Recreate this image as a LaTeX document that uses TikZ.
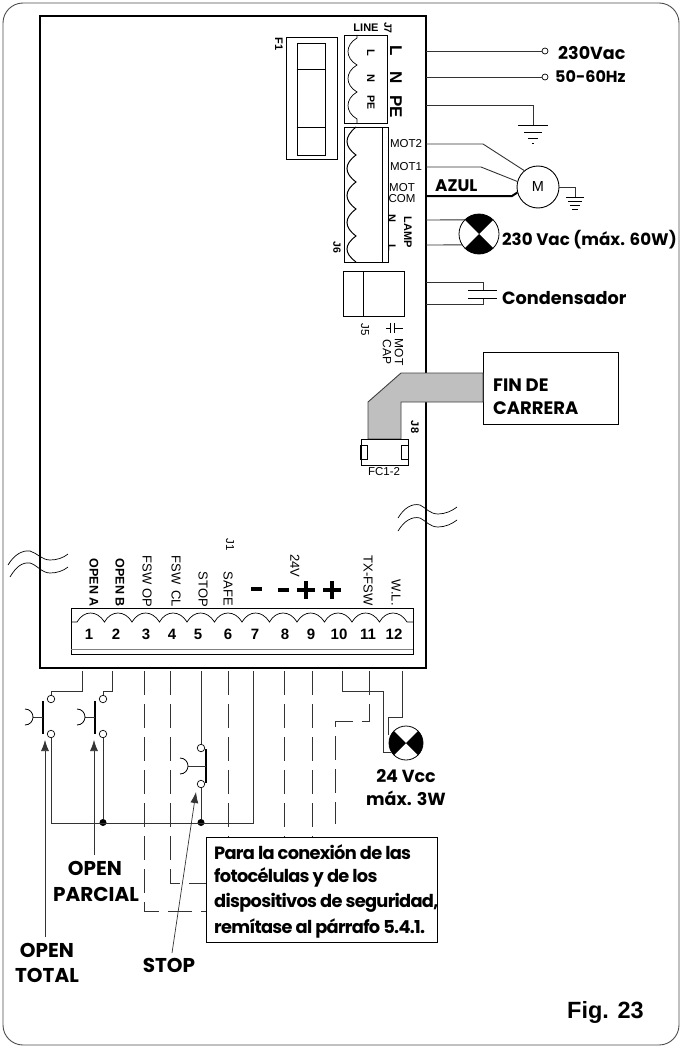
\documentclass[tikz,border=0pt]{standalone}
\usepackage{fontspec}
\setmainfont{Liberation Sans}
\newfontfamily\figfont{Poppins}
\usetikzlibrary{arrows.meta}
\tikzset{
	wire/.style={line width=0.9pt, black!80},
	dashwire/.style={line width=0.8pt, black!80, dash pattern={on 24pt off 9pt}},
	termopen/.style={shape=circle, draw, fill=white, line width=0.7pt, inner sep=0, minimum size=7.5pt},
	termdot/.style={shape=circle, fill=black, inner sep=0, minimum size=7pt},
	boldlabel/.style={font=\figfont\bfseries\fontsize{18}{18}\selectfont, inner sep=0},
	notelabel/.style={anchor=west, inner sep=0, font=\figfont\bfseries\fontsize{17.8}{17.8}\selectfont\addfontfeature{LetterSpace=-4}},
	pinlabel/.style={font=\fontsize{13}{13}\selectfont, rotate=-90, anchor=east, inner sep=0},
	pinname/.style={font=\fontsize{11.5}{11.5}\selectfont, rotate=-90, inner sep=0},
	bigpin/.style={font=\bfseries\fontsize{17}{17}\selectfont, rotate=-90, inner sep=0},
	motname/.style={font=\fontsize{11.5}{11.5}\selectfont, inner sep=0},
	pinnum/.style={font=\bfseries\fontsize{15}{15}\selectfont, inner sep=0},
	pointer/.style={line width=0.7pt, black!80, -{Latex[length=11pt,width=8pt]}}
}
\begin{document}
\begin{tikzpicture}[x=1pt, y=-1pt]
	\useasboundingbox (0,0) rectangle (680,1046);
	% Frame and board:
	\draw[line width=0.9pt, black!70, rounded corners=20] (3,3) rectangle (679,1045);
	\node[shape=rectangle, draw, line width=2pt, minimum width=386pt, minimum height=652pt] (Board) at (233,342){};
	% Fuse:
	\node[shape=rectangle, draw, line width=0.8pt, minimum width=51pt, minimum height=122pt] (FuseBox) at (311.5,98){};
	\node[shape=rectangle, draw, line width=0.8pt, minimum width=28pt, minimum height=112pt] (Fuse) at (311,99){};
	\draw[line width=0.8pt] (Fuse.north west) ++(0,27) -- ++(28,0);
	\draw[line width=0.8pt] (Fuse.south west) ++(0,-28) -- ++(28,0);
	\node[pinname, font=\bfseries\fontsize{11}{11}\selectfont] (F1) at (279,44){F1};
	% J7:
	\node[shape=rectangle, draw, line width=0.8pt, minimum width=43pt, minimum height=88pt] (J7) at (365.5,79){};
	\draw[line width=0.7pt] (357,35) -- (357,38) .. controls (345,45) and (345,58) .. (357,65) .. controls (345,72) and (345,85) .. (357,92) .. controls (345,99) and (345,112) .. (357,119) -- (357,123);
	\node[pinname, font=\bfseries\fontsize{11}{11}\selectfont] (J7L) at (371,53){L};
	\node[pinname, font=\bfseries\fontsize{11}{11}\selectfont] (J7N) at (371,78){N};
	\node[pinname, font=\bfseries\fontsize{10.5}{10.5}\selectfont] (J7PE) at (371,103){PE};
	\node[bigpin] (LblL) at (396,51){L};
	\node[bigpin] (LblN) at (396,78){N};
	\node[bigpin] (LblPE) at (396,107){PE};
	\node[motname, font=\bfseries\fontsize{11}{11}\selectfont] (LblLine) at (366,28){LINE};
	\node[pinname, font=\bfseries\fontsize{10.5}{10.5}\selectfont] (LblJ7) at (388,28){J7};
	% J6:
	\node[shape=rectangle, draw, line width=0.8pt, minimum width=44pt, minimum height=135pt] (J6) at (366,194.5){};
	\draw[line width=0.8pt] (382,127) -- (382,262);
	\draw[line width=1pt] (356,127) .. controls (344,137) and (344,146) .. (356,155) .. controls (344,164) and (344,173) .. (356,182) .. controls (344,191) and (344,200) .. (356,209) .. controls (344,218) and (344,227) .. (356,236) .. controls (344,245) and (344,253) .. (356,262);
	\node[motname] (LblMotB) at (406,144){MOT2};
	\node[motname] (LblMotA) at (406,167){MOT1};
	\node[motname] (LblMotC) at (402,188){MOT};
	\node[motname] (LblCom) at (402,199){COM};
	\node[pinname, font=\bfseries\fontsize{11}{11}\selectfont] (LblLampN) at (392,218){N};
	\node[pinname, font=\bfseries\fontsize{11}{11}\selectfont] (LblLampL) at (392,248){L};
	\node[pinname, font=\bfseries\fontsize{11}{11}\selectfont] (LblLamp) at (408,232){LAMP};
	\node[pinname, font=\bfseries\fontsize{10.5}{10.5}\selectfont] (LblJ6) at (337,247){J6};
	% J5:
	\node[shape=rectangle, draw, line width=0.8pt, minimum width=61pt, minimum height=45pt] (J5) at (373.5,293.5){};
	\draw[line width=0.8pt] (363,271) -- (363,316);
	\node[pinname] (LblJ5) at (365,330){J5};
	\draw[line width=0.8pt] (390,323) -- (390,333) (394,323) -- (394,333) (386,328) -- (390,328) (394,328) -- (403,328);
	\node[pinname, font=\fontsize{12}{12}\selectfont] (LblMotCap) at (399,352){MOT};
	\node[pinname, font=\fontsize{12}{12}\selectfont] (LblCap) at (387,352){CAP};
	% Limit switch:
	\node[shape=rectangle, draw, line width=0.9pt, minimum width=135pt, minimum height=72pt] (Fin) at (550.5,388){};
	\node[boldlabel, anchor=west] (LblFin) at (493,385){FIN DE};
	\node[boldlabel, anchor=west] (LblCarrera) at (493,408){CARRERA};
	\draw[fill=black!25, draw=black!75, line width=0.9pt] (401,373) -- (483,373) -- (483,402) -- (401,402) -- (401,439) -- (368,439) -- (368,402) -- cycle;
	\node[shape=rectangle, draw, line width=0.8pt, minimum width=47pt, minimum height=26pt] (FC) at (384.5,452){};
	\node[shape=rectangle, draw, line width=0.7pt, minimum width=6pt, minimum height=14pt] (FCa) at (364,452){};
	\node[shape=rectangle, draw, line width=0.7pt, minimum width=6pt, minimum height=14pt] (FCb) at (405,452){};
	\node[motname] (LblFC) at (384,472){FC1-2};
	\node[pinname, font=\bfseries\fontsize{11}{11}\selectfont] (LblJ8) at (415,427){J8};
	% Mains side:
	\node[termopen, minimum size=6pt] (Ac1) at (545,51){};
	\node[termopen, minimum size=6pt] (Ac2) at (545,77){};
	\coordinate (PL) at (426,51);
	\coordinate (PN) at (426,77);
	\coordinate (PE) at (426,105);
	\coordinate (EarthA) at (533,125);
	\coordinate (EarthB) at (575,197);
	\draw[wire] (PL) -- (Ac1);
	\draw[wire] (PN) -- (Ac2);
	\draw[wire] (PE) -| (EarthA);
	\draw[line width=0.9pt] (EarthA) ++(-15,0) -- ++(30,0) (EarthA) ++(-9,7) -- ++(18,0) (EarthA) ++(-5,13) -- ++(10,0) (EarthA) ++(-1,18) -- ++(2,0);
	\node[boldlabel, anchor=west, font=\figfont\bfseries\fontsize{17.5}{17.5}\selectfont] (Lbl230) at (558,53){230Vac};
	\node[boldlabel, anchor=west, font=\figfont\bfseries\fontsize{16}{16}\selectfont] (LblHz) at (555,77){50-60Hz};
	% Motor:
	\node[shape=circle, draw, line width=0.9pt, inner sep=0, minimum size=42pt, font=\fontsize{14.5}{14.5}\selectfont] (Motor) at (538,187){M};
	\coordinate (MB) at (426,144);
	\coordinate (MA) at (426,167);
	\coordinate (MC) at (426,196);
	\draw[wire] (MB) -- (483,144) -- (Motor.130);
	\draw[wire] (MA) -- (481,167) -- (Motor.165);
	\draw[line width=2pt] (MC) -- (512,196) -- (Motor.195);
	\draw[wire] (Motor.east) -- (575,187) -- (EarthB);
	\draw[line width=0.9pt] (EarthB) ++(-9,0) -- ++(18,0) (EarthB) ++(-7,4) -- ++(14,0) (EarthB) ++(-5,8) -- ++(10,0) (EarthB) ++(-3,12) -- ++(6,0);
	\node[boldlabel, font=\figfont\bfseries\fontsize{16.8}{16.8}\selectfont, anchor=west] (LblAzul) at (435,186){AZUL};
	% Lamp 230 V:
	\node[shape=circle, draw, line width=0.8pt, inner sep=0, outer sep=0, minimum size=40pt] (LampA) at (479,234){};
	\fill (LampA.center) -- (LampA.45) arc[start angle=45, end angle=135, radius=20pt] -- cycle;
	\fill (LampA.center) -- (LampA.225) arc[start angle=225, end angle=315, radius=20pt] -- cycle;
	\coordinate (LN) at (426,220);
	\coordinate (LL) at (426,245);
	\draw[wire] (LN) -- (LampA.135);
	\draw[wire] (LL) -- (LampA.213);
	\node[boldlabel, anchor=west, font=\figfont\bfseries\fontsize{16.7}{16.7}\selectfont] (LblLampA) at (502,240){230 Vac (máx. 60W)};
	% Capacitor:
	\coordinate (CapA) at (426,282);
	\coordinate (CapB) at (426,304);
	\coordinate (CapTop) at (483,290);
	\coordinate (CapBot) at (483,298);
	\draw[wire] (CapA) -| (CapTop);
	\draw[wire] (CapB) -| (CapBot);
	\draw[line width=1pt] (468,290) -- (497,290) (468,298) -- (497,298);
	\node[boldlabel, anchor=west, font=\figfont\bfseries\fontsize{17.7}{17.7}\selectfont] (LblCond) at (502,298){Condensador};
	% Break marks:
	\draw[line width=0.7pt] (398,518) .. controls (404,508) and (412,503) .. (420,505) .. controls (426,508) and (430,514) .. (438,514) .. controls (445,514) and (452,511) .. (457,507);
	\draw[line width=0.7pt] (398,531) .. controls (404,521) and (412,516) .. (420,518) .. controls (426,521) and (430,527) .. (438,527) .. controls (445,527) and (452,524) .. (457,520);
	\draw[line width=0.7pt] (8,565) .. controls (14,555) and (22,550) .. (30,551) .. controls (37,553) and (42,560) .. (50,560) .. controls (57,560) and (63,558) .. (68,554);
	\draw[line width=0.7pt] (10,577) .. controls (16,567) and (22,562) .. (30,563) .. controls (37,565) and (42,573) .. (50,573) .. controls (57,573) and (63,571) .. (68,567);
	% Terminal block J1:
	\node[shape=rectangle, draw, line width=0.9pt, minimum width=342pt, minimum height=46pt] (Block) at (242,631){};
	\draw[line width=1pt, black!50] (71,649) -- (413,649);
	\draw[line width=0.7pt] (71,622) -- (77,622) .. controls (84,610) and (97,610) .. (104.5,622) .. controls (111,610) and (125,610) .. (132,622) .. controls (139,610) and (152,610) .. (159.5,622) .. controls (166,610) and (180,610) .. (187,622) .. controls (194,610) and (207,610) .. (214.5,622) .. controls (221,610) and (235,610) .. (242,622) .. controls (249,610) and (262,610) .. (269.5,622) .. controls (276,610) and (290,610) .. (297,622) .. controls (304,610) and (317,610) .. (324.5,622) .. controls (331,610) and (345,610) .. (352,622) .. controls (359,610) and (372,610) .. (379.5,622) .. controls (386,610) and (400,610) .. (407,622) -- (413,622);
	\node[pinnum] (Num1) at (89,634){1};
	\node[pinnum] (Num2) at (116,634){2};
	\node[pinnum] (Num3) at (146,634){3};
	\node[pinnum] (Num4) at (172,634){4};
	\node[pinnum] (Num5) at (198,634){5};
	\node[pinnum] (Num6) at (228,634){6};
	\node[pinnum] (Num7) at (255,634){7};
	\node[pinnum] (Num8) at (285,634){8};
	\node[pinnum] (Num9) at (311,634){9};
	\node[pinnum] (Num10) at (339,634){10};
	\node[pinnum] (Num11) at (368,634){11};
	\node[pinnum] (Num12) at (394,634){12};
	\node[pinlabel, font=\bfseries\fontsize{12.5}{12.5}\selectfont] (LblOpenA) at (94,607){OPEN A};
	\node[pinlabel, font=\bfseries\fontsize{12.5}{12.5}\selectfont] (LblOpenB) at (120,607){OPEN B};
	\node[pinlabel] (LblFswOp) at (147,607){FSW OP};
	\node[pinlabel] (LblFswCl) at (176,607){FSW\, CL};
	\node[pinlabel] (LblStop) at (203,607){STOP};
	\node[pinlabel] (LblSafe) at (228,606){SAFE};
	\node[pinname] (LblJ1) at (230,545){J1};
	\node[pinname, font=\fontsize{13}{13}\selectfont] (Lbl24) at (295,566){24V};
	\node[pinlabel] (LblTx) at (368,606){TX-FSW};
	\node[pinlabel] (LblWl) at (396,606){W.L.};
	\draw[line width=3.5pt] (251,589) -- (262,589);
	\draw[line width=3.5pt] (278,590) -- (289,590);
	\draw[line width=3.5pt] (297,590) -- (315,590) (306,581) -- (306,599);
	\draw[line width=3.5pt] (323,590) -- (341,590) (332,581) -- (332,599);
	% Terminal wires:
	\coordinate (T1) at (82,671);
	\coordinate (T2) at (112,671);
	\coordinate (T3) at (144,671);
	\coordinate (T4) at (170,671);
	\coordinate (T5) at (201,671);
	\coordinate (T6) at (228,671);
	\coordinate (T7) at (253,671);
	\coordinate (T8) at (284,671);
	\coordinate (T9) at (312,671);
	\coordinate (T10) at (342,671);
	\coordinate (T11) at (369,671);
	\coordinate (T12) at (402,671);
	% Push buttons:
	\node[termopen] (SwAa) at (51,699){};
	\node[termopen] (SwAb) at (51,734){};
	\node[termopen] (SwBa) at (103,699){};
	\node[termopen] (SwBb) at (103,734){};
	\node[termopen] (SwCa) at (201,748){};
	\node[termopen] (SwCb) at (201,784){};
	\node[termdot] (DotA) at (103,822.5){};
	\node[termdot] (DotB) at (201,822.5){};
	\draw[wire] (T1) -- (82,691) -- (51,691) -- (SwAa);
	\draw[wire] (T2) -- (112,691) -- (103,691) -- (SwBa);
	\draw[wire] (T5) -- (SwCa);
	\draw[wire] (SwCb) -- (DotB);
	\draw[wire] (SwBb) -- (DotA);
	\draw[wire] (SwAb) -- (51,823) -- (253,823) -- (T7);
	\draw[line width=1.6pt] (43,701) -- (43,734);
	\draw[wire] (43,717) -- (33,717);
	\draw[line width=0.8pt] (25,709) .. controls (30,709) and (33,713) .. (33,717) .. controls (33,721) and (30,725) .. (25,725);
	\draw[line width=1.6pt] (95,701) -- (95,734);
	\draw[wire] (95,717) -- (85,717);
	\draw[line width=0.8pt] (77,709) .. controls (82,709) and (85,713) .. (85,717) .. controls (85,721) and (82,725) .. (77,725);
	\draw[line width=1.6pt] (206,749) -- (206,783);
	\draw[wire] (206,766) -- (188,766);
	\draw[line width=0.8pt] (180,758) .. controls (185,758) and (188,762) .. (188,766) .. controls (188,770) and (185,774) .. (180,774);
	% Photocell wires:
	\draw[dashwire] (T3) -- (144,911) -- (206,911);
	\draw[dashwire] (T4) -- (170,883) -- (206,883);
	\draw[dashwire] (T6) -- (228,837);
	\draw[dashwire] (T8) -- (284,837);
	\draw[dashwire] (T9) -- (312,837);
	\draw[dashwire] (T11) -- (369,721) -- (335,721) -- (335,824);
	% Lamp 24 V:
	\node[shape=circle, draw, line width=0.8pt, inner sep=0, outer sep=0, minimum size=34pt] (LampB) at (406,743){};
	\fill (LampB.center) -- (LampB.135) arc[start angle=135, end angle=225, radius=17pt] -- cycle;
	\fill (LampB.center) -- (LampB.315) arc[start angle=315, end angle=405, radius=17pt] -- cycle;
	\draw[wire] (T10) -- (342,691) -- (383,691) -- (383,752) -- (391,752);
	\draw[wire] (T12) -- (402,717) -- (388,717) -- (388,735);
	\node[boldlabel, anchor=center, font=\figfont\bfseries\fontsize{17.5}{17.5}\selectfont] (LblVcc) at (406,776){24 Vcc};
	\node[boldlabel, anchor=center, font=\figfont\bfseries\fontsize{17.5}{17.5}\selectfont] (LblMax) at (406,798){máx. 3W};
	% Note:
	\node[shape=rectangle, draw, fill=white, line width=0.9pt, minimum width=231pt, minimum height=105pt] (Note) at (321.5,889.5){};
	\node[notelabel] (NoteA) at (214,852){Para la conexión de las};
	\node[notelabel] (NoteB) at (214,877){fotocélulas y de los};
	\node[notelabel] (NoteC) at (214,903){dispositivos de seguridad,};
	\node[notelabel] (NoteD) at (214,928){remítase al párrafo 5.4.1.};
	% Button labels and pointers:
	\node[boldlabel, font=\figfont\bfseries\fontsize{20}{20}\selectfont] (LblOpenT) at (47,950){OPEN};
	\node[boldlabel, font=\figfont\bfseries\fontsize{20}{20}\selectfont] (LblTotal) at (47,975){TOTAL};
	\node[boldlabel, font=\figfont\bfseries\fontsize{20}{20}\selectfont] (LblOpenP) at (95,868){OPEN};
	\node[boldlabel, font=\figfont\bfseries\fontsize{20}{20}\selectfont] (LblParc) at (96,894){PARCIAL};
	\node[boldlabel, font=\figfont\bfseries\fontsize{20}{20}\selectfont] (LblStopB) at (169,965){STOP};
	\coordinate (TailT) at (45,937);
	\coordinate (TailP) at (94,855);
	\coordinate (TailS) at (172,953);
	\draw[pointer] (TailT) -- (45,740);
	\draw[pointer] (TailP) -- (94,740);
	\draw[pointer] (TailS) -- (196,792);
	\node[anchor=east, inner sep=0, font=\bfseries\fontsize{23.5}{23.5}\selectfont] (LblFig) at (644,1012){Fig. 23};
\end{tikzpicture}
\end{document}
